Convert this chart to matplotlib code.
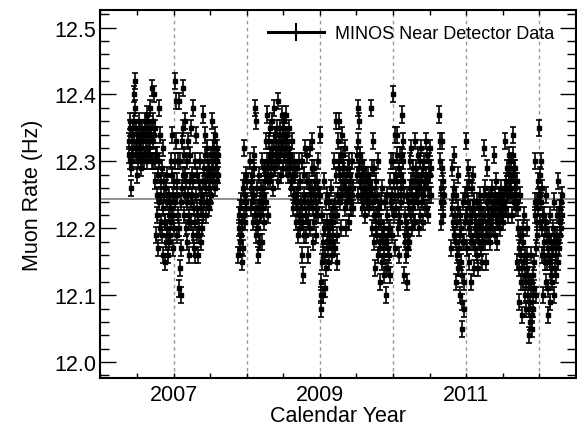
import numpy as np
import pandas as pd
import matplotlib
matplotlib.use("Agg")
import matplotlib.pyplot as plt
from matplotlib.ticker import MultipleLocator, FixedLocator, FixedFormatter

nan = np.nan

# ---- data (muon rate in Hz, sampled every 2 days) ----
sample_step = "2D"
rate_err = 0.012
mean_rate = 12.244

start_2006 = "2006-05-23"
rates_2006 = [
    12.33, 12.31, 12.30, 12.35, 12.36, 12.29, 12.26, 12.32, 12.34, 12.30, 12.31, 12.35,
    12.40, 12.36, 12.33, 12.38, 12.42, 12.31, 12.35, 12.32, 12.28, 12.33,
    12.34, 12.31, 12.30, 12.33, 12.36, 12.31, 12.32, 12.35, 12.29, 12.33, 12.35, 12.30,
    12.31, 12.34, 12.33, 12.31, 12.30, 12.34, 12.36, 12.31, 12.32, 12.35, 12.34, 12.30,
    12.37, 12.34, 12.32, 12.36, 12.35, 12.31, 12.38, 12.33, 12.31, 12.35, 12.34, 12.30,
    12.41, 12.36, 12.33, 12.30, 12.40, 12.34, 12.30, 12.27, 12.35, 12.31,
    12.19, 12.25, 12.31, 12.22, 12.17, 12.28, 12.38, 12.30, 12.24, 12.20,
    12.34, 12.27, 12.21, 12.25, 12.29, 12.19, 12.16, 12.23, 12.32, 12.27, 12.25, 12.21,
    12.15, 12.21, 12.26, 12.18, 12.20, 12.24, 12.28, 12.19, 12.16, 12.25, 12.22, 12.18,
    12.19, 12.24, 12.30, 12.21, 12.23, 12.28, 12.34, 12.25, 12.17, 12.22, 12.27, 12.20,
    12.42, 12.30, 12.24, 12.33, 12.39, 12.27, 12.19, 12.25, 12.30, 12.22,
    12.11, 12.20, 12.39, 12.30, 12.14, 12.24, 12.10, 12.17, 12.26, 12.33, 12.35, 12.28,
    12.41, 12.31, 12.22, 12.28, 12.36, 12.25, 12.20, 12.27, 12.30, 12.24,
    12.18, 12.25, 12.33, 12.22, 12.16, 12.21, 12.27, 12.31, 12.35, 12.24, 12.21, 12.28, 12.25, 12.19,
    12.38, 12.27, 12.17, 12.23, 12.30, 12.21, 12.16, 12.25, 12.34, 12.28, 12.23, 12.19,
    12.16, 12.22, 12.27, 12.19, 12.20, 12.26, 12.30, 12.23, 12.18, 12.24, 12.25, 12.20, 12.22, 12.27,
    12.37, 12.29, 12.24, 12.31, 12.34, 12.27, 12.22, 12.26, 12.28, 12.32,
    12.24, 12.28, 12.30, 12.26, 12.23, 12.29, 12.27, 12.24, 12.31, 12.28, 12.25, 12.29,
    12.36, 12.30, 12.27, 12.32, 12.33, 12.28, 12.26, 12.31, 12.34, 12.30, 12.29, 12.32,
    12.30, 12.27, 12.28, 12.31,
]

start_2008 = "2007-11-21"
rates_2008 = [
    12.16, 12.20, 12.22, 12.17, 12.18, 12.23, 12.24, 12.19, 12.15, 12.21, 12.20, 12.17,
    12.26, 12.22, 12.32, 12.27, 12.21, 12.25, 12.28, 12.24, 12.23, 12.27,
    nan, nan, nan, nan, nan, nan, nan, nan,
    12.30, 12.26, 12.23, 12.28, 12.27, 12.24, 12.21, 12.25, 12.29, 12.31, 12.25, 12.22,
    12.38, 12.36,
    12.19, 12.23, 12.26, 12.21, 12.16, 12.20, 12.23, 12.18, 12.28, 12.24, 12.18, 12.22,
    12.22, 12.26, 12.30, 12.24, 12.18, 12.23, 12.26, 12.29, 12.21, 12.25, 12.29, 12.27,
    12.33, 12.28, 12.24, 12.30, 12.37, 12.29, 12.22, 12.27, 12.30, 12.33, 12.27, 12.31, 12.35, 12.30,
    12.28, 12.32, 12.36, 12.30, 12.26, 12.31, 12.33, 12.29, 12.38, 12.34, 12.29, 12.32,
    12.31, 12.34, 12.35, 12.30, 12.27, 12.32,
    12.39, 12.33, 12.30, 12.35, 12.34, 12.31, 12.28, 12.32, 12.37, 12.33, 12.32, 12.35,
    12.29, 12.33, 12.36, 12.31, 12.31, 12.34,
    12.37, 12.32, 12.29, 12.34, 12.33, 12.30, 12.28, 12.31, 12.35, 12.32, 12.31, 12.29, 12.30, 12.27,
    12.26, 12.30, 12.33, 12.27, 12.23, 12.28, 12.30, 12.25, 12.25, 12.29, 12.28, 12.24,
    12.21, 12.25, 12.29, 12.23, 12.19, 12.24, 12.26, 12.22, 12.30, 12.27, 12.22, 12.20, 12.24, 12.21,
    12.16, 12.23, 12.30, 12.21, 12.13, 12.19, 12.25, 12.28, 12.32, 12.24, 12.19, 12.22,
    12.22, 12.27, 12.31, 12.24, 12.16, 12.21, 12.27, 12.23, 12.20, 12.26, 12.32, 12.25,
    12.24, 12.29, 12.33, 12.26, 12.18, 12.23, 12.29, 12.25, 12.21, 12.27, 12.26, 12.22,
    12.19, 12.24, 12.27, 12.23, 12.22, 12.26, 12.30, 12.25,
]

start_2009 = "2009-01-01"
rates_2009 = [
    12.34, 12.25, 12.12, 12.10, 12.08, 12.15, 12.22, 12.18, 12.10, 12.16,
    12.27, 12.20, 12.11, 12.16, 12.20, 12.24, 12.14, 12.18, 12.25, 12.21, 12.17, 12.20,
    12.15, 12.19, 12.24, 12.20, 12.18, 12.22, 12.26, 12.21, 12.16, 12.18, 12.21, 12.23, 12.19, 12.17,
    12.30, 12.24, 12.17, 12.22, 12.36, 12.28, 12.22, 12.19, 12.15, 12.25, 12.33, 12.29,
    12.36, 12.30, 12.24, 12.28, 12.31, 12.26, 12.20, 12.25, 12.34, 12.29, 12.27, 12.31, 12.29, 12.26,
    12.23, 12.27, 12.32, 12.26, 12.20, 12.24, 12.28, 12.25, 12.25, 12.29, 12.30, 12.26,
    12.21, 12.25, 12.28, 12.23, 12.24, 12.27, 12.30, 12.25, 12.26, 12.23,
    nan, nan, nan, nan, nan, nan, nan, nan,
    12.28, 12.31, 12.38, 12.33, 12.25, 12.29, 12.36, 12.30, 12.31, 12.27,
    12.27, 12.25, 12.23, 12.28, 12.30, 12.26, 12.25, 12.28, 12.29, 12.24, 12.22, 12.26,
    12.28, 12.25, 12.26, 12.24,
    12.25, 12.27, 12.28, 12.24, 12.23, 12.26, 12.27, 12.25, 12.24, 12.26,
    12.38, 12.29, 12.20, 12.26, 12.33, 12.24, 12.18, 12.22, 12.29, 12.25,
    12.14, 12.20, 12.27, 12.22, 12.19, 12.25, 12.30, 12.23, 12.16, 12.21, 12.23, 12.18,
    12.12, 12.17, 12.21, 12.24, 12.26, 12.19, 12.15, 12.18, 12.19, 12.16, 12.13, 12.20, 12.24, 12.18,
    12.10, 12.14, 12.18, 12.22, 12.25, 12.19, 12.14, 12.17, 12.20, 12.16,
    12.13, 12.20, 12.27, 12.24, 12.30, 12.23, 12.19, 12.25,
]

start_2010 = "2010-01-01"
rates_2010 = [
    12.40, 12.30, 12.22, 12.27, 12.34, 12.25, 12.17, 12.23, 12.28, 12.31,
    12.34, 12.27, 12.20, 12.25, 12.29, 12.22, 12.16, 12.21, 12.31, 12.26, 12.24, 12.28,
    12.37, 12.31, 12.27, 12.30, 12.33, 12.25,
    12.13, 12.18, 12.22, 12.19, 12.16, 12.21, 12.25, 12.20, 12.12, 12.17, 12.19, 12.23,
    12.18, 12.24, 12.30, 12.26, 12.22, 12.27, 12.32, 12.25, 12.20, 12.23, 12.27, 12.29, 12.24, 12.21,
    12.33, 12.27, 12.21, 12.25, 12.29, 12.26, 12.25, 12.28, 12.31, 12.24, 12.20, 12.26, 12.27, 12.30,
    12.22, 12.27, 12.32, 12.26, 12.24, 12.28, 12.29, 12.25, 12.21, 12.26, 12.30, 12.27, 12.26, 12.23,
    12.33, 12.28, 12.23, 12.27, 12.31, 12.26, 12.22, 12.25, 12.28, 12.30, 12.32, 12.28, 12.25, 12.29,
    nan, nan, nan, nan, nan, nan, nan, nan, nan, nan,
    nan, nan, nan, nan, nan, nan, nan, nan, nan, nan,
    12.37, 12.33, 12.30, 12.26, 12.21, 12.24, 12.33, 12.29, 12.24, 12.22, 12.27, 12.25,
    nan, nan, nan, nan, nan, nan, nan, nan, nan,
    nan, nan, nan, nan, nan, nan, nan, nan, nan,
    12.17, 12.23, 12.29, 12.25, 12.21, 12.19, 12.31, 12.26, 12.19, 12.22,
    12.12, 12.18, 12.25, 12.21, 12.16, 12.14, 12.28, 12.23, 12.14, 12.17, 12.22, 12.19,
    12.10, 12.15, 12.20, 12.13, 12.05, 12.09, 12.24, 12.18, 12.08, 12.12, 12.18, 12.21, 12.25, 12.22,
]

start_2011 = "2011-01-01"
rates_2011 = [
    12.33, 12.26, 12.17, 12.22, 12.29, 12.24, 12.15, 12.20, 12.27, 12.23, 12.21, 12.18,
    12.12, 12.19, 12.26, 12.22, 12.18, 12.23, 12.28, 12.24, 12.14, 12.17, 12.22, 12.20, 12.19, 12.21,
    12.16, 12.20, 12.24, 12.19, 12.14, 12.18, 12.21, 12.23, 12.25, 12.20, 12.17, 12.21,
    12.23, 12.19, 12.15, 12.18, 12.20, 12.22,
    12.32, 12.25, 12.18, 12.22, 12.26, 12.20, 12.15, 12.19, 12.29, 12.24, 12.21, 12.23,
    12.19, 12.22, 12.25, 12.21, 12.18, 12.20, 12.23, 12.25, 12.26, 12.22, 12.20, 12.23, 12.22, 12.24,
    12.31, 12.25, 12.19, 12.23, 12.27, 12.22, 12.18, 12.21, 12.24, 12.22,
    12.21, 12.23, 12.25, 12.22, 12.20, 12.24, 12.26, 12.23, 12.22, 12.25, 12.24, 12.22,
    12.21, 12.23, 12.25, 12.24, 12.23, 12.26,
    12.33, 12.27, 12.23, 12.26, 12.29, 12.25, 12.22, 12.25, 12.27, 12.29, 12.31, 12.26,
    12.25, 12.28, 12.30, 12.26, 12.22, 12.25, 12.28, 12.31, 12.34, 12.29, 12.24, 12.27,
    12.29, 12.26, 12.23, 12.25, 12.27, 12.24,
    12.15, 12.20, 12.23, 12.17, 12.09, 12.14, 12.25, 12.19, 12.12, 12.16, 12.19, 12.14,
    12.07, 12.12, 12.18, 12.20, 12.22, 12.15, 12.10, 12.13, 12.16, 12.12, 12.08, 12.14,
    12.20, 12.16, 12.13, 12.10,
    12.04, 12.08, 12.12, 12.09, 12.06, 12.11, 12.16, 12.12, 12.05, 12.07, 12.10, 12.13, 12.08, 12.11,
    12.15, 12.22, 12.30, 12.24, 12.10, 12.17, 12.24, 12.21, 12.19, 12.23, 12.27, 12.25,
]

start_2012 = "2012-01-01"
rates_2012 = [
    12.35, 12.28, 12.21, 12.25, 12.30, 12.24, 12.16, 12.20, 12.26, 12.22,
    12.10, 12.16, 12.22, 12.18, 12.15, 12.20, 12.25, 12.21, 12.12, 12.15, 12.19, 12.17,
    12.07, 12.11, 12.16, 12.19, 12.22, 12.15, 12.09, 12.13, 12.18, 12.14, 12.12, 12.16,
    12.20, 12.17,
    12.24, 12.18, 12.10, 12.14, 12.19, 12.16, 12.13, 12.17, 12.22, 12.19, 12.15, 12.18,
    12.27, 12.22, 12.17, 12.21, 12.23, 12.19, 12.20, 12.24, 12.25, 12.22,
]

segments = [
    (start_2006, rates_2006),
    (start_2008, rates_2008),
    (start_2009, rates_2009),
    (start_2010, rates_2010),
    (start_2011, rates_2011),
    (start_2012, rates_2012),
]

year_lines = [2007, 2008, 2009, 2010, 2011, 2012]
xtick_labels = ["2007", "2009", "2011"]


def decimal_year(dates):
    days_in_year = np.where(dates.is_leap_year, 366.0, 365.0)
    return dates.year + (dates.dayofyear - 1) / days_in_year


plt.rcParams["font.family"] = ["Liberation Sans", "DejaVu Sans"]

fig = plt.figure(figsize=(5.77, 4.27), dpi=100)
ax = fig.add_axes([0.174, 0.112, 0.824, 0.862])

for start, rates in segments:
    dates = pd.date_range(start, periods=len(rates), freq=sample_step)
    x = decimal_year(dates)
    y = np.array(rates, dtype=float)
    ax.errorbar(x, y, yerr=rate_err, fmt="s", ms=3.0, color="black",
                ecolor="black", elinewidth=1.2, capsize=2.0, capthick=1.2,
                zorder=3)

for yr in year_lines:
    ax.axvline(yr, color="#999999", lw=1.0, ls=(0, (2.5, 2.5)), zorder=1)
ax.axhline(mean_rate, color="#8a8a8a", lw=1.3, zorder=2)

# legend proxy
ax.errorbar([], [], yerr=rate_err, fmt="-", color="black", lw=2.2,
            elinewidth=1.5, capsize=0, label="MINOS Near Detector Data")
leg = ax.legend(loc="upper right", frameon=False, fontsize=13,
                handlelength=3.1, handletextpad=0.6,
                bbox_to_anchor=(0.970, 0.978), borderaxespad=0.0)

ax.set_xlim(2006.0, 2012.5)
ax.set_ylim(11.976, 12.526)

ax.xaxis.set_major_locator(FixedLocator([2007, 2009, 2011]))
ax.xaxis.set_major_formatter(FixedFormatter(xtick_labels))
ax.xaxis.set_minor_locator(MultipleLocator(0.5))
ax.yaxis.set_major_locator(MultipleLocator(0.1))
ax.yaxis.set_minor_locator(MultipleLocator(0.02))
ax.yaxis.set_major_formatter(plt.FuncFormatter(lambda v, p: f"{v:.1f}"))

ax.tick_params(axis="y", which="major", direction="in", length=11.5,
               width=1.0, left=True, right=True, labelsize=15.5, pad=3)
ax.tick_params(axis="y", which="minor", direction="in", length=6.5,
               width=1.0, left=True, right=True)
ax.tick_params(axis="x", which="both", direction="in", length=3.5,
               width=1.0, top=True, bottom=True, labelsize=15.5, pad=4)

for s in ax.spines.values():
    s.set_linewidth(1.5)

ax.set_xlabel("Calendar Year", fontsize=15.5, labelpad=0.5)
ax.set_ylabel("Muon Rate (Hz)", fontsize=15.5, labelpad=8)

fig.savefig("out.png", dpi=100)
